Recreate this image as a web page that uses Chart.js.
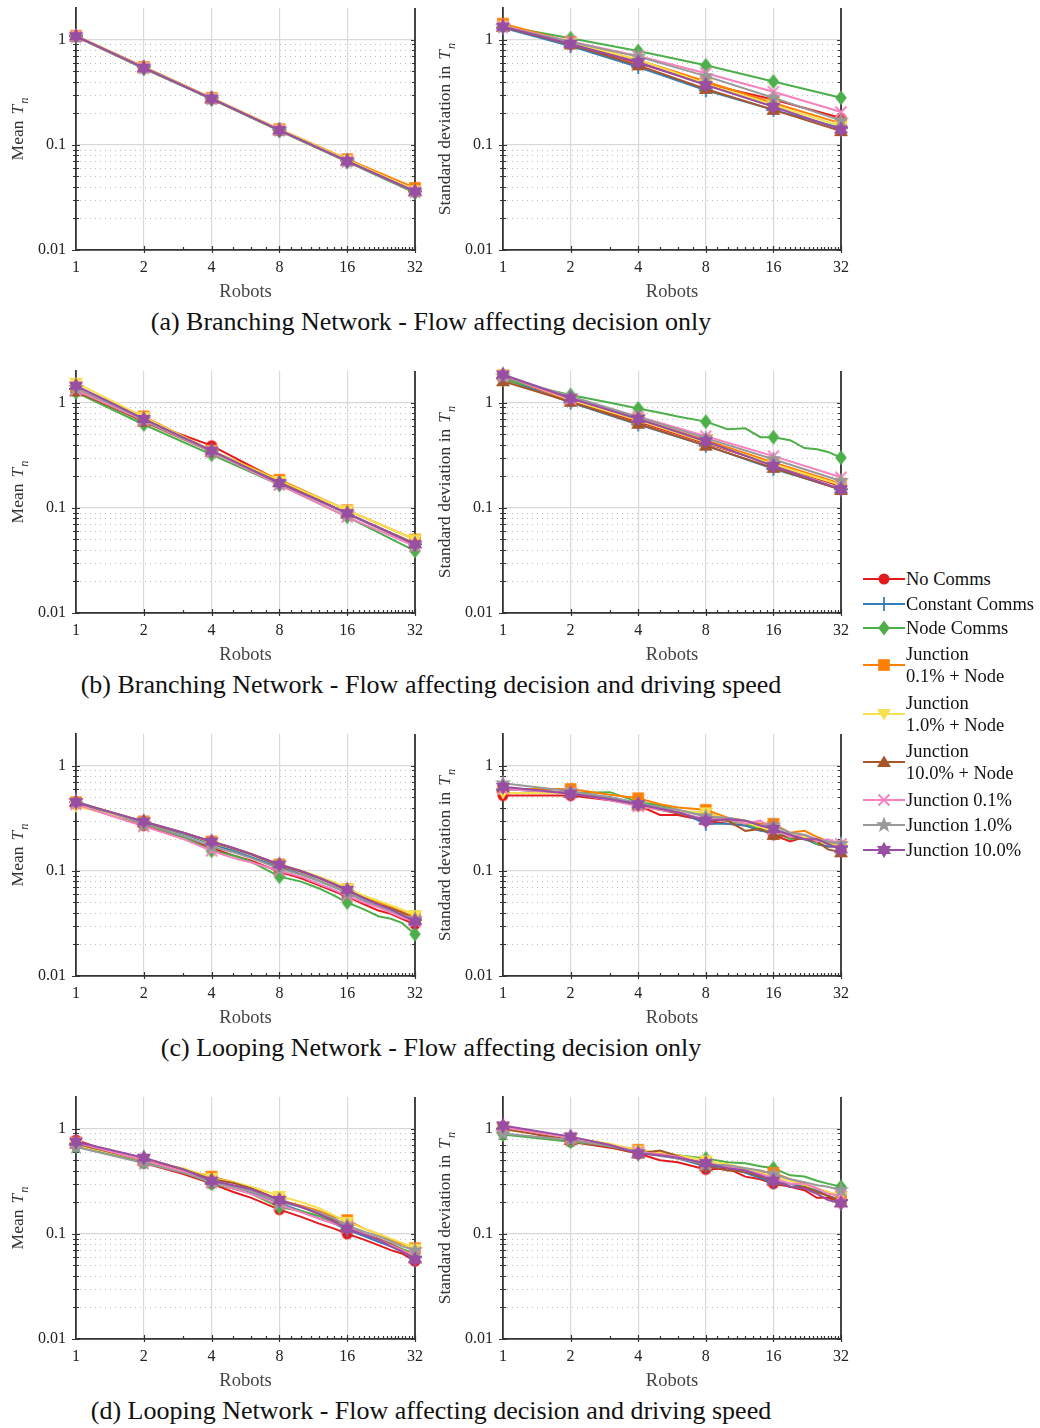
<!DOCTYPE html>
<html>
<head>
<meta charset="utf-8">
<script src="https://cdn.jsdelivr.net/npm/chart.js"></script>
<style>
  body { margin: 0; background: #fff; width: 1040px; height: 1428px; position: relative; overflow: hidden; font-family: "Liberation Serif", "DejaVu Serif", serif; }
  canvas.panel { position: absolute; }
  .caption { position: absolute; left: 0; width: 862px; text-align: center; font-size: 26px; line-height: 30px; color: #111; }
  .legend-item { position: absolute; left: 863px; display: flex; align-items: center; font-size: 18.5px; line-height: 22px; color: #111; }
  .legend-item canvas { margin-right: 1px; }
</style>
</head>
<body>
<script>
// x values (number of robots)
const ROBOTS_MAIN = [1, 2, 4, 8, 16, 32];
const ROBOTS_FINE = [1, 2, 3, 4, 5, 6, 8, 10, 12, 14, 16, 19, 22, 25, 28, 32];
const Y_TICKS = [0.01, 0.1, 1];

const SERIES_NAMES = ['No Comms', 'Constant Comms', 'Node Comms', 'Junction 0.1% + Node', 'Junction 1.0% + Node',
  'Junction 10.0% + Node', 'Junction 0.1%', 'Junction 1.0%', 'Junction 10.0%'];
const COLORS = ['#e41a1c', '#377eb8', '#4daf4a', '#ff7f00', '#f5e050', '#a65628', '#f781bf', '#999999', '#984ea3'];
const MARKER_SHAPES = ['circle', 'plus', 'diamond', 'square', 'triDown', 'triUp', 'x', 'star5', 'star6'];

// (a) branching, decision only
const A_MEAN = [
  [1.08, 0.54, 0.275, 0.138, 0.070, 0.036],
  [1.08, 0.55, 0.277, 0.139, 0.071, 0.036],
  [1.07, 0.53, 0.272, 0.136, 0.069, 0.035],
  [1.09, 0.55, 0.280, 0.141, 0.073, 0.039],
  [1.08, 0.545, 0.278, 0.140, 0.072, 0.037],
  [1.07, 0.54, 0.274, 0.137, 0.070, 0.036],
  [1.08, 0.54, 0.276, 0.138, 0.070, 0.036],
  [1.07, 0.54, 0.275, 0.138, 0.070, 0.036],
  [1.08, 0.54, 0.275, 0.138, 0.070, 0.036]
];
const A_STD = [
  [1.33, 0.92, 0.60, 0.38, 0.27, 0.18],
  [1.30, 0.87, 0.55, 0.33, 0.215, 0.145],
  [1.35, 1.03, 0.78, 0.57, 0.40, 0.28],
  [1.42, 0.95, 0.64, 0.40, 0.25, 0.16],
  [1.36, 0.93, 0.65, 0.38, 0.24, 0.15],
  [1.32, 0.90, 0.57, 0.34, 0.215, 0.135],
  [1.34, 0.96, 0.70, 0.48, 0.32, 0.205],
  [1.33, 0.95, 0.69, 0.45, 0.28, 0.17],
  [1.33, 0.91, 0.61, 0.37, 0.23, 0.14]
];

// (b) branching, decision and driving speed
const B_MEAN = [
  [1.30, 0.67, 0.39, 0.180, 0.088, 0.045],
  [1.35, 0.68, 0.35, 0.175, 0.088, 0.045],
  [1.25, 0.62, 0.32, 0.165, 0.082, 0.039],
  [1.40, 0.74, 0.35, 0.185, 0.095, 0.050],
  [1.55, 0.73, 0.35, 0.180, 0.095, 0.050],
  [1.28, 0.66, 0.34, 0.175, 0.088, 0.046],
  [1.32, 0.68, 0.34, 0.165, 0.082, 0.043],
  [1.38, 0.69, 0.345, 0.172, 0.088, 0.045],
  [1.45, 0.70, 0.35, 0.172, 0.089, 0.045]
];
const B_STD = [
  [1.78, 1.05, 0.66, 0.41, 0.26, 0.16],
  [1.70, 1.00, 0.62, 0.39, 0.235, 0.15],
  [1.65, 1.18, 1.00, 0.88, 0.80, 0.74, 0.66, 0.56, 0.57, 0.47, 0.47, 0.44, 0.37, 0.36, 0.34, 0.30],
  [1.82, 1.05, 0.70, 0.44, 0.27, 0.17],
  [1.85, 1.06, 0.68, 0.42, 0.26, 0.165],
  [1.60, 1.02, 0.63, 0.39, 0.24, 0.148],
  [1.80, 1.08, 0.74, 0.48, 0.31, 0.195],
  [1.78, 1.15, 0.73, 0.46, 0.29, 0.18],
  [1.85, 1.10, 0.70, 0.43, 0.25, 0.15]
];

// (c) looping, decision only
const C_MEAN = [
  [0.43, 0.27, 0.21, 0.165, 0.14, 0.125, 0.098, 0.085, 0.073, 0.064, 0.057, 0.048, 0.042, 0.039, 0.035, 0.031],
  [0.45, 0.285, 0.225, 0.18, 0.155, 0.135, 0.108, 0.093, 0.080, 0.070, 0.062, 0.052, 0.046, 0.042, 0.038, 0.034],
  [0.44, 0.28, 0.21, 0.155, 0.14, 0.122, 0.088, 0.079, 0.068, 0.058, 0.050, 0.043, 0.037, 0.035, 0.032, 0.025],
  [0.45, 0.295, 0.23, 0.19, 0.165, 0.145, 0.115, 0.100, 0.087, 0.076, 0.067, 0.056, 0.050, 0.045, 0.041, 0.036],
  [0.41, 0.29, 0.23, 0.185, 0.163, 0.145, 0.113, 0.100, 0.088, 0.078, 0.068, 0.058, 0.052, 0.047, 0.043, 0.038],
  [0.45, 0.29, 0.23, 0.188, 0.163, 0.143, 0.113, 0.098, 0.085, 0.074, 0.065, 0.055, 0.048, 0.044, 0.040, 0.035],
  [0.43, 0.265, 0.20, 0.155, 0.132, 0.12, 0.100, 0.088, 0.075, 0.066, 0.058, 0.050, 0.045, 0.040, 0.036, 0.033],
  [0.46, 0.28, 0.215, 0.17, 0.15, 0.132, 0.105, 0.092, 0.080, 0.070, 0.062, 0.053, 0.047, 0.042, 0.038, 0.035],
  [0.45, 0.295, 0.23, 0.19, 0.165, 0.145, 0.115, 0.100, 0.086, 0.075, 0.066, 0.055, 0.048, 0.043, 0.038, 0.033]
];
const C_STD = [
  [0.52, 0.52, 0.47, 0.42, 0.34, 0.34, 0.30, 0.28, 0.27, 0.25, 0.22, 0.19, 0.21, 0.18, 0.17, 0.17],
  [0.60, 0.55, 0.50, 0.44, 0.40, 0.37, 0.28, 0.28, 0.27, 0.24, 0.23, 0.21, 0.20, 0.18, 0.17, 0.17],
  [0.60, 0.55, 0.56, 0.45, 0.42, 0.38, 0.33, 0.30, 0.28, 0.25, 0.24, 0.20, 0.21, 0.18, 0.19, 0.16],
  [0.60, 0.60, 0.53, 0.49, 0.43, 0.40, 0.38, 0.32, 0.30, 0.28, 0.28, 0.23, 0.24, 0.21, 0.19, 0.17],
  [0.55, 0.55, 0.48, 0.41, 0.38, 0.37, 0.36, 0.31, 0.29, 0.26, 0.24, 0.22, 0.21, 0.19, 0.18, 0.17],
  [0.62, 0.55, 0.48, 0.42, 0.38, 0.35, 0.31, 0.30, 0.24, 0.25, 0.22, 0.21, 0.20, 0.19, 0.16, 0.15],
  [0.60, 0.55, 0.47, 0.41, 0.38, 0.36, 0.31, 0.31, 0.28, 0.30, 0.25, 0.21, 0.22, 0.19, 0.20, 0.18],
  [0.68, 0.57, 0.50, 0.44, 0.40, 0.38, 0.33, 0.32, 0.30, 0.27, 0.27, 0.23, 0.22, 0.20, 0.19, 0.18],
  [0.63, 0.54, 0.48, 0.43, 0.39, 0.36, 0.30, 0.31, 0.30, 0.27, 0.25, 0.22, 0.20, 0.20, 0.18, 0.16]
];

// (d) looping, decision and driving speed
const D_MEAN = [
  [0.78, 0.47, 0.37, 0.30, 0.25, 0.22, 0.17, 0.145, 0.125, 0.112, 0.100, 0.088, 0.078, 0.070, 0.065, 0.055],
  [0.72, 0.49, 0.39, 0.31, 0.27, 0.245, 0.195, 0.165, 0.140, 0.125, 0.110, 0.095, 0.084, 0.076, 0.068, 0.060],
  [0.68, 0.48, 0.39, 0.30, 0.27, 0.24, 0.18, 0.165, 0.148, 0.125, 0.115, 0.100, 0.088, 0.080, 0.072, 0.065],
  [0.74, 0.50, 0.41, 0.35, 0.31, 0.275, 0.21, 0.185, 0.165, 0.145, 0.135, 0.112, 0.100, 0.088, 0.080, 0.073],
  [0.70, 0.50, 0.42, 0.34, 0.31, 0.28, 0.23, 0.200, 0.175, 0.150, 0.130, 0.112, 0.100, 0.090, 0.082, 0.072],
  [0.72, 0.50, 0.41, 0.33, 0.305, 0.27, 0.21, 0.180, 0.155, 0.135, 0.120, 0.100, 0.090, 0.080, 0.070, 0.060],
  [0.74, 0.50, 0.39, 0.31, 0.27, 0.24, 0.19, 0.160, 0.140, 0.125, 0.115, 0.100, 0.088, 0.078, 0.070, 0.062],
  [0.67, 0.47, 0.38, 0.31, 0.28, 0.255, 0.20, 0.180, 0.160, 0.140, 0.120, 0.105, 0.095, 0.085, 0.076, 0.070],
  [0.75, 0.53, 0.41, 0.32, 0.29, 0.265, 0.21, 0.180, 0.155, 0.130, 0.112, 0.098, 0.088, 0.076, 0.068, 0.057]
];
const D_STD = [
  [1.05, 0.75, 0.66, 0.58, 0.50, 0.48, 0.41, 0.42, 0.35, 0.33, 0.30, 0.28, 0.26, 0.22, 0.22, 0.20],
  [1.00, 0.80, 0.68, 0.60, 0.56, 0.52, 0.44, 0.43, 0.38, 0.34, 0.31, 0.30, 0.28, 0.26, 0.23, 0.21],
  [0.88, 0.75, 0.68, 0.60, 0.58, 0.56, 0.52, 0.48, 0.47, 0.44, 0.42, 0.36, 0.35, 0.32, 0.30, 0.28],
  [1.02, 0.80, 0.70, 0.63, 0.58, 0.54, 0.47, 0.44, 0.42, 0.39, 0.38, 0.33, 0.30, 0.27, 0.25, 0.22],
  [0.98, 0.82, 0.72, 0.62, 0.60, 0.56, 0.50, 0.46, 0.42, 0.38, 0.35, 0.32, 0.29, 0.27, 0.25, 0.23],
  [1.00, 0.78, 0.67, 0.58, 0.62, 0.55, 0.44, 0.40, 0.39, 0.35, 0.32, 0.28, 0.28, 0.25, 0.23, 0.20],
  [1.03, 0.82, 0.70, 0.60, 0.57, 0.54, 0.46, 0.44, 0.40, 0.37, 0.34, 0.30, 0.30, 0.27, 0.24, 0.23],
  [0.90, 0.78, 0.68, 0.60, 0.55, 0.52, 0.46, 0.45, 0.42, 0.40, 0.37, 0.33, 0.31, 0.29, 0.28, 0.26],
  [1.07, 0.84, 0.70, 0.58, 0.56, 0.53, 0.47, 0.42, 0.40, 0.36, 0.32, 0.28, 0.27, 0.24, 0.21, 0.195]
];

const CAPTIONS = [
  '(a) Branching Network - Flow affecting decision only',
  '(b) Branching Network - Flow affecting decision and driving speed',
  '(c) Looping Network - Flow affecting decision only',
  '(d) Looping Network - Flow affecting decision and driving speed'
];
const LEGEND_LINES = [['No Comms'], ['Constant Comms'], ['Node Comms'], ['Junction', '0.1% + Node'], ['Junction', '1.0% + Node'],
  ['Junction', '10.0% + Node'], ['Junction 0.1%'], ['Junction 1.0%'], ['Junction 10.0%']];

// layout
const ROW_STEP = 363;
const FONT = '"Liberation Serif", "DejaVu Serif", serif';
const LEGEND_Y = [579, 604, 628, 665, 714, 762, 800, 825, 850];

// marker images
function makeMarker(shape, color) {
  const s = 20;
  const c = document.createElement('canvas');
  c.width = s; c.height = s;
  const g = c.getContext('2d');
  g.translate(s / 2, s / 2);
  g.fillStyle = color; g.strokeStyle = color; g.lineWidth = 1.8;
  const star = (n, ro, ri) => {
    g.beginPath();
    for (let k = 0; k < n * 2; k++) {
      const r = k % 2 ? ri : ro;
      const a = -Math.PI / 2 + k * Math.PI / n;
      g.lineTo(r * Math.cos(a), r * Math.sin(a));
    }
    g.closePath(); g.fill();
  };
  g.beginPath();
  if (shape === 'circle') { g.arc(0, 0, 5.5, 0, Math.PI * 2); g.fill(); }
  else if (shape === 'plus') { g.moveTo(-7, 0); g.lineTo(7, 0); g.moveTo(0, -7); g.lineTo(0, 7); g.stroke(); }
  else if (shape === 'diamond') { g.moveTo(0, -7.5); g.lineTo(5.8, 0); g.lineTo(0, 7.5); g.lineTo(-5.8, 0); g.closePath(); g.fill(); }
  else if (shape === 'square') { g.fillRect(-5.8, -5.8, 11.6, 11.6); }
  else if (shape === 'triDown') { g.moveTo(-7, -5); g.lineTo(7, -5); g.lineTo(0, 6.5); g.closePath(); g.fill(); }
  else if (shape === 'triUp') { g.moveTo(-7, 5); g.lineTo(7, 5); g.lineTo(0, -6.5); g.closePath(); g.fill(); }
  else if (shape === 'x') { g.moveTo(-5.5, -5.5); g.lineTo(5.5, 5.5); g.moveTo(5.5, -5.5); g.lineTo(-5.5, 5.5); g.stroke(); }
  else if (shape === 'star5') { star(5, 8.5, 3.5); }
  else if (shape === 'star6') { star(6, 8.2, 4.6); }
  return c;
}
const MARKERS = MARKER_SHAPES.map((sh, i) => makeMarker(sh, COLORS[i]));

// dotted minor grid, right spine and small ticks
const framePlugin = {
  id: 'frame',
  beforeDatasetsDraw(chart) {
    const { ctx, chartArea: { left, right, top, bottom }, scales: { x, y } } = chart;
    ctx.save();
    ctx.strokeStyle = '#bcbcbc';
    ctx.lineWidth = 1;
    ctx.setLineDash([1, 4]);
    const minors = [];
    Y_TICKS.forEach(d => { for (let m = 2; m <= 9; m++) if (m * d < 2) minors.push(m * d); });
    minors.forEach(v => {
      const py = Math.round(y.getPixelForValue(v)) + 0.5;
      ctx.beginPath(); ctx.moveTo(left + 4, py); ctx.lineTo(right, py); ctx.stroke();
    });
    ctx.setLineDash([]);
    ctx.strokeStyle = '#333';
    ctx.lineWidth = 1.8;
    ctx.beginPath(); ctx.moveTo(right, top); ctx.lineTo(right, bottom); ctx.stroke();
    ctx.lineWidth = 1.2;
    const tick = (v, len) => {
      const py = Math.round(y.getPixelForValue(v)) + 0.5;
      ctx.beginPath();
      ctx.moveTo(left, py); ctx.lineTo(left - len, py);
      ctx.moveTo(left, py); ctx.lineTo(left + len, py);
      ctx.moveTo(right, py); ctx.lineTo(right - len, py);
      ctx.stroke();
    };
    Y_TICKS.forEach(v => tick(v, 4));
    minors.forEach(v => tick(v, 3));
    for (let n = 2; n <= 32; n++) {
      const px = Math.round(x.getPixelForValue(n)) + 0.5;
      const major = ROBOTS_MAIN.includes(n);
      ctx.beginPath(); ctx.moveTo(px, bottom + (major ? 3 : 0)); ctx.lineTo(px, bottom - (major ? 4 : 3)); ctx.stroke();
    }
    ctx.restore();
  }
};

// y title with italic T and subscript n
const yTitlePlugin = {
  id: 'yTitle',
  afterDraw(chart, args, opts) {
    const { ctx, chartArea } = chart;
    const cy = (chartArea.top + chartArea.bottom) / 2;
    const f1 = '17.5px ' + FONT, f2 = 'italic 17.5px ' + FONT, f3 = 'italic 12.5px ' + FONT;
    ctx.save();
    ctx.translate(opts.x, cy);
    ctx.rotate(-Math.PI / 2);
    ctx.fillStyle = '#333';
    ctx.textAlign = 'left';
    ctx.textBaseline = 'middle';
    ctx.font = f1; const w1 = ctx.measureText(opts.text).width + 6;
    ctx.font = f2; const w2 = ctx.measureText('T').width;
    ctx.font = f3; const w3 = ctx.measureText('n').width;
    const x0 = -(w1 + w2 + w3 + 1) / 2;
    ctx.font = f1; ctx.fillText(opts.text, x0, 0);
    ctx.font = f2; ctx.fillText('T', x0 + w1, 0);
    ctx.font = f3; ctx.fillText('n', x0 + w1 + w2 + 1, 7);
    ctx.restore();
  }
};

function makePanel(row, col, values, yText) {
  const canvas = document.createElement('canvas');
  canvas.className = 'panel';
  canvas.width = 430; canvas.height = 305;
  canvas.style.left = (col * 430) + 'px';
  canvas.style.top = (row * ROW_STEP) + 'px';
  document.body.appendChild(canvas);

  const datasets = SERIES_NAMES.map((name, i) => {
    const xs = values[i].length === ROBOTS_MAIN.length ? ROBOTS_MAIN : ROBOTS_FINE;
    return {
      label: name,
      data: xs.map((x, j) => ({ x: x, y: values[i][j] })),
      borderColor: COLORS[i],
      backgroundColor: COLORS[i],
      borderWidth: 2,
      pointStyle: MARKERS[i],
      pointRadius: ctx => (ctx.raw && ROBOTS_MAIN.includes(ctx.raw.x)) ? 6 : 0,
      pointHoverRadius: 0,
      tension: 0,
      clip: false,
      order: 8 - i
    };
  });

  new Chart(canvas, {
    type: 'line',
    data: { datasets: datasets },
    plugins: [framePlugin, yTitlePlugin],
    options: {
      responsive: false,
      animation: false,
      devicePixelRatio: 1,
      events: [],
      layout: { padding: { top: 7, left: 0, right: col ? 19 : 15, bottom: 0 } },
      plugins: {
        legend: { display: false },
        tooltip: { enabled: false },
        yTitle: { x: col ? 15 : 18, text: yText }
      },
      scales: {
        x: {
          type: 'logarithmic',
          min: 1, max: 32,
          afterBuildTicks: s => { s.ticks = ROBOTS_MAIN.map(v => ({ value: v })); },
          afterFit: s => { s.height = 55; s.paddingLeft = 0; s.paddingRight = 0; },
          ticks: { callback: v => String(v), color: '#222', font: { family: FONT, size: 16 }, padding: 8, maxRotation: 0, autoSkip: false },
          grid: { color: '#d9d9d9', lineWidth: 1.2, drawTicks: false },
          border: { color: '#333', width: 1.8 },
          title: { display: true, text: 'Robots', color: '#444', font: { family: FONT, size: 18.5 }, padding: { top: 0, bottom: 2 } }
        },
        y: {
          type: 'logarithmic',
          min: 0.01, max: 2,
          afterBuildTicks: s => { s.ticks = Y_TICKS.map(v => ({ value: v })); },
          afterFit: s => { s.width = col ? 73 : 76; s.paddingTop = 0; s.paddingBottom = 0; },
          ticks: { callback: v => String(v), color: '#222', font: { family: FONT, size: 16 }, padding: 10 },
          grid: { color: '#d9d9d9', lineWidth: 1.2, drawTicks: false },
          border: { color: '#333', width: 1.8 }
        }
      }
    }
  });
}

const PANEL_VALUES = [[A_MEAN, A_STD], [B_MEAN, B_STD], [C_MEAN, C_STD], [D_MEAN, D_STD]];
PANEL_VALUES.forEach((pair, row) => {
  makePanel(row, 0, pair[0], 'Mean');
  makePanel(row, 1, pair[1], 'Standard deviation in');
  const cap = document.createElement('div');
  cap.className = 'caption';
  cap.style.top = (307 + row * ROW_STEP) + 'px';
  cap.textContent = CAPTIONS[row];
  document.body.appendChild(cap);
});

// legend
LEGEND_LINES.forEach((lines, i) => {
  const item = document.createElement('div');
  item.className = 'legend-item';
  item.style.top = (LEGEND_Y[i] - 11 * lines.length) + 'px';
  const icon = document.createElement('canvas');
  icon.width = 42; icon.height = 20;
  const g = icon.getContext('2d');
  g.strokeStyle = COLORS[i]; g.lineWidth = 2;
  g.beginPath(); g.moveTo(0, 10); g.lineTo(42, 10); g.stroke();
  g.drawImage(MARKERS[i], 11, 0);
  const label = document.createElement('div');
  lines.forEach((t, k) => {
    if (k) label.appendChild(document.createElement('br'));
    label.appendChild(document.createTextNode(t));
  });
  item.appendChild(icon);
  item.appendChild(label);
  document.body.appendChild(item);
});
</script>
</body>
</html>
